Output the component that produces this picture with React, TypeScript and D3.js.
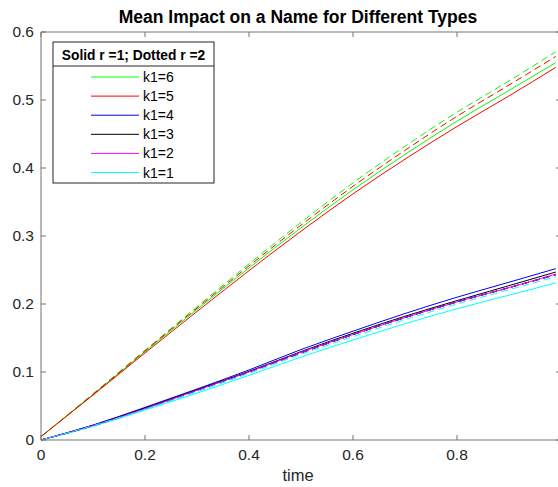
import React from "react";
import * as d3 from "d3";

const times = [0, 0.1, 0.2, 0.3, 0.4, 0.5, 0.6, 0.7, 0.8, 0.9, 0.99];

// r = 1 (solid)
const k1_1_r1 = [0, 0.02, 0.044, 0.069, 0.095, 0.122, 0.147, 0.171, 0.193, 0.213, 0.231];
const k1_2_r1 = [0, 0.021, 0.046, 0.073, 0.1, 0.129, 0.155, 0.18, 0.203, 0.224, 0.244];
const k1_3_r1 = [0, 0.0215, 0.047, 0.074, 0.101, 0.13, 0.157, 0.182, 0.205, 0.227, 0.247];
const k1_4_r1 = [0, 0.022, 0.048, 0.075, 0.103, 0.133, 0.16, 0.186, 0.21, 0.232, 0.252];
const k1_5_r1 = [0.005, 0.066, 0.128, 0.189, 0.249, 0.307, 0.362, 0.413, 0.461, 0.506, 0.548];
const k1_6_r1 = [0.005, 0.067, 0.13, 0.192, 0.253, 0.312, 0.368, 0.42, 0.469, 0.514, 0.555];

// r = 2 (dashed)
const k1_1_r2 = [0, 0.021, 0.045, 0.071, 0.098, 0.126, 0.152, 0.177, 0.2, 0.221, 0.24];
const k1_2_r2 = [0, 0.021, 0.046, 0.073, 0.1, 0.128, 0.155, 0.18, 0.203, 0.224, 0.243];
const k1_3_r2 = [0, 0.021, 0.046, 0.073, 0.1, 0.128, 0.155, 0.18, 0.203, 0.224, 0.243];
const k1_4_r2 = [0, 0.021, 0.046, 0.073, 0.1, 0.128, 0.155, 0.18, 0.203, 0.224, 0.243];
const k1_5_r2 = [0.005, 0.067, 0.131, 0.194, 0.256, 0.316, 0.373, 0.426, 0.476, 0.522, 0.564];
const k1_6_r2 = [0.005, 0.068, 0.132, 0.196, 0.259, 0.32, 0.378, 0.432, 0.482, 0.528, 0.571];

const legendLabels = ["k1=6", "k1=5", "k1=4", "k1=3", "k1=2", "k1=1"];
const legendColors = ["#00ff00", "#ff0000", "#0000ff", "#000000", "#ff00ff", "#00ffff"];

const xTicks = [0, 0.2, 0.4, 0.6, 0.8];
const yTicks = [0, 0.1, 0.2, 0.3, 0.4, 0.5, 0.6];

const titleText = "Mean Impact on a Name for Different Types";
const xLabel = "time";
const legendTitle = "Solid r =1; Dotted r =2";

const series = [
  { vals: k1_6_r1, color: "#00ff00", dash: false },
  { vals: k1_5_r1, color: "#ff0000", dash: false },
  { vals: k1_4_r1, color: "#0000ff", dash: false },
  { vals: k1_3_r1, color: "#000000", dash: false },
  { vals: k1_2_r1, color: "#ff00ff", dash: false },
  { vals: k1_1_r1, color: "#00ffff", dash: false },
  { vals: k1_6_r2, color: "#00ff00", dash: true },
  { vals: k1_5_r2, color: "#ff0000", dash: true },
  { vals: k1_4_r2, color: "#0000ff", dash: true },
  { vals: k1_3_r2, color: "#000000", dash: true },
  { vals: k1_2_r2, color: "#ff00ff", dash: true },
  { vals: k1_1_r2, color: "#00ffff", dash: true },
];

export default function App() {
  const W = 558, H = 487;
  const left = 41, right = 561, top = 32, bottom = 440;
  const x = d3.scaleLinear().domain([0, 1]).range([left, right]);
  const y = d3.scaleLinear().domain([0, 0.6]).range([bottom, top]);
  const line = d3
    .line<number>()
    .x((_, i) => x(times[i]))
    .y((d) => y(d))
    .curve(d3.curveMonotoneX);
  const axisColor = "#737373";
  const textColor = "#262626";
  const font = "'Liberation Sans', Arial, Helvetica, sans-serif";

  const lx = 53, ly = 42, lw = 161, lh = 141;

  return (
    <svg width={W} height={H} style={{ position: "absolute", left: 0, top: 0, background: "#fff" }} fontFamily={font}>
      <rect x={0} y={0} width={W} height={H} fill="#fff" />
      <text x={298} y={23} textAnchor="middle" fontWeight="bold" fontSize={17.5} fill="#000">
        {titleText}
      </text>
      <g>
        {series.map((s, i) => (
          <path
            key={i}
            d={line(s.vals) || ""}
            fill="none"
            stroke={s.color}
            strokeWidth={1}
            strokeDasharray={s.dash ? "7,4" : undefined}
          />
        ))}
      </g>
      {/* box */}
      <line x1={left} x2={right} y1={bottom} y2={bottom} stroke={axisColor} />
      <line x1={left} x2={right} y1={top} y2={top} stroke={axisColor} />
      <line x1={left} x2={left} y1={top} y2={bottom} stroke={axisColor} />
      <line x1={right} x2={right} y1={top} y2={bottom} stroke={axisColor} />
      {xTicks.map((t) => (
        <g key={"x" + t}>
          <line x1={x(t)} x2={x(t)} y1={bottom} y2={bottom - 5} stroke={axisColor} />
          <line x1={x(t)} x2={x(t)} y1={top} y2={top + 5} stroke={axisColor} />
          <text x={x(t)} y={bottom + 20} textAnchor="middle" fontSize={15.5} fill={textColor}>
            {d3.format("")(t)}
          </text>
        </g>
      ))}
      {yTicks.map((t) => (
        <g key={"y" + t}>
          <line x1={left} x2={left + 5} y1={y(t)} y2={y(t)} stroke={axisColor} />
          <line x1={right} x2={right - 5} y1={y(t)} y2={y(t)} stroke={axisColor} />
          <text x={left - 7} y={y(t) + 5} textAnchor="end" fontSize={15.5} fill={textColor}>
            {d3.format("")(t)}
          </text>
        </g>
      ))}
      <text x={298} y={481} textAnchor="middle" fontSize={16.5} fill={textColor}>
        {xLabel}
      </text>
      {/* legend */}
      <rect x={lx} y={ly} width={lw} height={lh} fill="#fff" stroke={textColor} strokeWidth={1} />
      <text x={lx + lw / 2} y={ly + 18} textAnchor="middle" fontWeight="bold" fontSize={13.8} fill="#000">
        {legendTitle}
      </text>
      <line x1={lx} x2={lx + lw} y1={66} y2={66} stroke={textColor} />
      {legendLabels.map((lab, i) => {
        const cy = 77 + i * 19.1;
        return (
          <g key={lab}>
            <line x1={91} x2={139} y1={cy} y2={cy} stroke={legendColors[i]} strokeWidth={1} />
            <text x={143} y={cy + 5} fontSize={14} fill="#000">
              {lab}
            </text>
          </g>
        );
      })}
    </svg>
  );
}
